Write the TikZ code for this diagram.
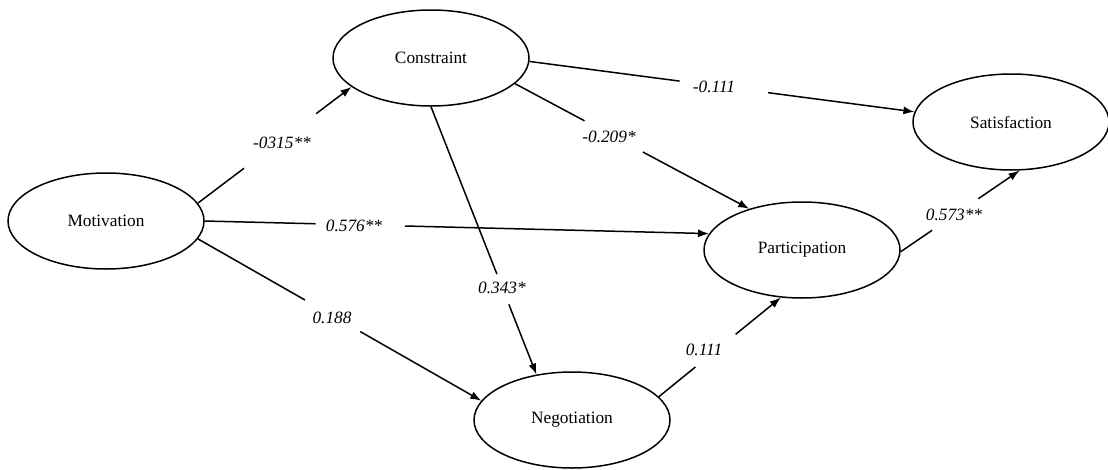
\documentclass[tikz,border=0pt]{standalone}
\usepackage{fontspec}
\setmainfont{Liberation Serif}
\usetikzlibrary{shapes.geometric,arrows.meta,calc}
\begin{document}
\begin{tikzpicture}[x=1pt,y=-1pt,
  construct/.style={ellipse,draw,line width=1.5pt,minimum width=196pt,minimum height=96pt,inner sep=0pt,font=\fontsize{17.3}{20}\selectfont},
  coef/.style={font=\fontsize{17.3}{20}\selectfont\itshape,inner sep=0pt},
  link/.style={line width=1.5pt},
  arr/.style={line width=1.5pt,-{Latex[length=11pt,width=8pt]}}]
\useasboundingbox (0,0) rectangle (1108,469);
\node[construct] (con) at (431,58) {Constraint};
\node[construct] (mot) at (106,221) {Motivation};
\node[construct] (sat) at (1011,122) {Satisfaction};
\node[construct] (par) at (802,250) {Participation};
\node[construct] (neg) at (572,420) {Negotiation};
% Motivation -> Constraint
\coordinate (a1) at (mot.11.5); \coordinate (b1) at (con.200.4);
\draw[link] (a1) -- ($(a1)!0.30!(b1)$);
\draw[arr] ($(a1)!0.77!(b1)$) -- (b1);
\node[coef] (l1) at (282,143) {-0315**};
% Motivation -> Participation
\coordinate (a2) at (mot.-0.6); \coordinate (b2) at (par.170.3);
\draw[link] (a2) -- ($(a2)!0.22!(b2)$);
\draw[arr] ($(a2)!0.397!(b2)$) -- (b2);
\node[coef] (l2) at (354,226) {0.576**};
% Motivation -> Negotiation
\coordinate (a3) at (mot.-11); \coordinate (b3) at (neg.168.3);
\draw[link] (a3) -- ($(a3)!0.378!(b3)$);
\draw[arr] ($(a3)!0.573!(b3)$) -- (b3);
\node[coef] (l3) at (332,318) {0.188};
% Constraint -> Satisfaction
\coordinate (a4) at (con.-2.3); \coordinate (b4) at (sat.174.7);
\draw[link] (a4) -- ($(a4)!0.39!(b4)$);
\draw[arr] ($(a4)!0.62!(b4)$) -- (b4);
\node[coef] (l4) at (714,87) {-0.111};
% Constraint -> Participation
\coordinate (a5) at (con.-17.2); \coordinate (b5) at (par.142.6);
\draw[link] (a5) -- ($(a5)!0.297!(b5)$);
\draw[arr] ($(a5)!0.546!(b5)$) -- (b5);
\node[coef] (l5) at (609,137) {-0.209*};
% Constraint -> Negotiation
\coordinate (a6) at (con.-90); \coordinate (b6) at (neg.128.2);
\draw[link] (a6) -- ($(a6)!0.625!(b6)$);
\draw[arr] ($(a6)!0.738!(b6)$) -- (b6);
\node[coef] (l6) at (502,288) {0.343*};
% Negotiation -> Participation
\coordinate (a7) at (neg.15.8); \coordinate (b7) at (par.246.9);
\draw[link] (a7) -- ($(a7)!0.30!(b7)$);
\draw[arr] ($(a7)!0.63!(b7)$) -- (b7);
\node[coef] (l7) at (704,350) {0.111};
% Participation -> Satisfaction
\coordinate (a8) at (par.-1.8); \coordinate (b8) at (sat.280.2);
\draw[link] (a8) -- ($(a8)!0.264!(b8)$);
\draw[arr] ($(a8)!0.653!(b8)$) -- (b8);
\node[coef] (l8) at (954,215) {0.573**};
\end{tikzpicture}
\end{document}
